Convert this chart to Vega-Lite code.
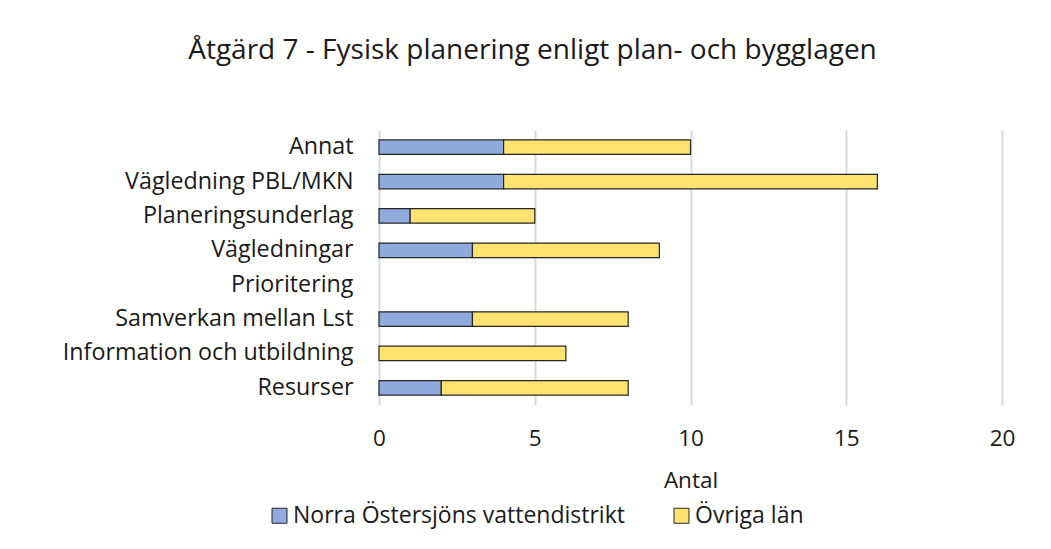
{
  "$schema": "https://vega.github.io/schema/vega-lite/v6.json",
  "autosize": "none",
  "width": 623,
  "height": 275,
  "padding": {"left": 379, "top": 130, "right": 49, "bottom": 144},
  "background": "white",
  "title": {
    "text": "Åtgärd 7 - Fysisk planering enligt plan- och bygglagen",
    "font": "Open Sans",
    "fontSize": 28,
    "fontWeight": "normal",
    "color": "#1a1a1a",
    "anchor": "middle",
    "frame": "group",
    "dx": -158,
    "offset": 65
  },
  "data": {
    "values": [
      {"kategori": "Annat", "serie": "Norra Östersjöns vattendistrikt", "antal": 4, "ordning": 1},
      {"kategori": "Annat", "serie": "Övriga län", "antal": 6, "ordning": 2},
      {"kategori": "Vägledning PBL/MKN", "serie": "Norra Östersjöns vattendistrikt", "antal": 4, "ordning": 1},
      {"kategori": "Vägledning PBL/MKN", "serie": "Övriga län", "antal": 12, "ordning": 2},
      {"kategori": "Planeringsunderlag", "serie": "Norra Östersjöns vattendistrikt", "antal": 1, "ordning": 1},
      {"kategori": "Planeringsunderlag", "serie": "Övriga län", "antal": 4, "ordning": 2},
      {"kategori": "Vägledningar", "serie": "Norra Östersjöns vattendistrikt", "antal": 3, "ordning": 1},
      {"kategori": "Vägledningar", "serie": "Övriga län", "antal": 6, "ordning": 2},
      {"kategori": "Prioritering", "serie": "Norra Östersjöns vattendistrikt", "antal": 0, "ordning": 1},
      {"kategori": "Prioritering", "serie": "Övriga län", "antal": 0, "ordning": 2},
      {"kategori": "Samverkan mellan Lst", "serie": "Norra Östersjöns vattendistrikt", "antal": 3, "ordning": 1},
      {"kategori": "Samverkan mellan Lst", "serie": "Övriga län", "antal": 5, "ordning": 2},
      {"kategori": "Information och utbildning", "serie": "Norra Östersjöns vattendistrikt", "antal": 0, "ordning": 1},
      {"kategori": "Information och utbildning", "serie": "Övriga län", "antal": 6, "ordning": 2},
      {"kategori": "Resurser", "serie": "Norra Östersjöns vattendistrikt", "antal": 2, "ordning": 1},
      {"kategori": "Resurser", "serie": "Övriga län", "antal": 6, "ordning": 2}
    ]
  },
  "transform": [{"filter": "datum.antal > 0"}],
  "mark": {"type": "bar", "stroke": "#262626", "strokeWidth": 1.2},
  "encoding": {
    "y": {
      "field": "kategori",
      "type": "nominal",
      "scale": {
        "domain": ["Annat", "Vägledning PBL/MKN", "Planeringsunderlag", "Vägledningar", "Prioritering", "Samverkan mellan Lst", "Information och utbildning", "Resurser"],
        "paddingInner": 0.58,
        "paddingOuter": 0.29
      },
      "axis": {
        "title": null,
        "domain": false,
        "ticks": false,
        "grid": false,
        "labelPadding": 26,
        "labelLimit": 400,
        "labelFont": "Open Sans",
        "labelFontSize": 23.3,
        "labelColor": "#1a1a1a"
      }
    },
    "x": {
      "field": "antal",
      "type": "quantitative",
      "stack": "zero",
      "scale": {"domain": [0, 20], "nice": false},
      "axis": {
        "values": [0, 5, 10, 15, 20],
        "title": "Antal",
        "domain": false,
        "ticks": false,
        "grid": true,
        "gridColor": "#d9d9d9",
        "gridWidth": 2,
        "labelFlush": false,
        "labelPadding": 22,
        "labelFont": "Open Sans",
        "labelFontSize": 22.5,
        "labelColor": "#1a1a1a",
        "titleFont": "Open Sans",
        "titleFontSize": 22.5,
        "titleFontWeight": "normal",
        "titleColor": "#1a1a1a",
        "titlePadding": 20
      }
    },
    "color": {
      "field": "serie",
      "type": "nominal",
      "scale": {
        "domain": ["Norra Östersjöns vattendistrikt", "Övriga län"],
        "range": ["#8faadc", "#ffe26f"]
      },
      "legend": {
        "title": null,
        "orient": "none",
        "direction": "horizontal",
        "legendX": -111,
        "legendY": 374,
        "symbolType": "square",
        "symbolSize": 225,
        "symbolStrokeColor": "#262626",
        "symbolStrokeWidth": 1,
        "labelFont": "Open Sans",
        "labelFontSize": 23,
        "labelLimit": 400,
        "labelColor": "#1a1a1a",
        "labelOffset": 2,
        "columnPadding": 45
      }
    },
    "order": {"field": "ordning", "type": "quantitative"}
  },
  "config": {"view": {"stroke": null}}
}
